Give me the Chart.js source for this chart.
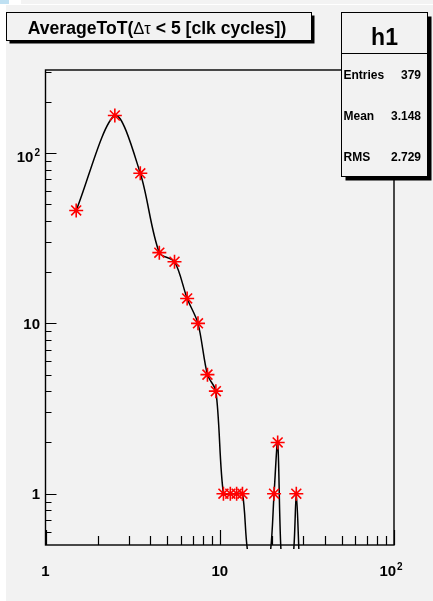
<!DOCTYPE html>
<html>
<head>
<meta charset="utf-8">
<script src="https://cdn.jsdelivr.net/npm/chart.js@4/dist/chart.umd.min.js"></script>
<style>
  html, body { margin: 0; padding: 0; background: #ffffff; }
  #wrap { position: relative; width: 433px; height: 601px; }
  canvas { display: block; }
</style>
</head>
<body>
<div id="wrap"><canvas id="c" width="433" height="601"></canvas></div>
<script>
// Histogram h1: average ToT, bins of width 1 (centres at x.5)
const binCenters = [1.5, 2.5, 3.5, 4.5, 5.5, 6.5, 7.5, 8.5, 9.5, 10.5, 11.5, 12.5, 13.5, 14.5,
                    15.5, 16.5, 17.5, 18.5, 19.5, 20.5, 21.5, 22.5, 23.5, 24.5, 25.5, 26.5, 27.5, 28.5];
const binCounts  = [46, 166, 76, 26, 23, 14, 10, 5, 4, 1, 1, 1, 1, 0,
                    0, 0, 0, 0, 0, 1, 2, 0, 0, 0, 0, 0, 1, 0];

// Title and statistics box contents
const titleParts = [
  { text: 'AverageToT(', bold: true },
  { text: '\u0394\u03c4', bold: false },
  { text: ' < 5 [clk cycles])', bold: true }
];
const statsName = 'h1';
const statsLabels = ['Entries', 'Mean', 'RMS'];
const statsValues = ['379', '3.148', '2.729'];

// Axis ranges and tick labels (base, exponent)
const xRange = [1, 100];
const yRange = [0.5, 307];
const xMajorTicks = [1, 10, 100];
const xTickLabels = [['1', ''], ['10', ''], ['10', '2']];
const yMajorTicks = [1, 10, 100];
const yTickLabels = [['1', ''], ['10', ''], ['10', '2']];
const xMinorTicks = [2, 3, 4, 5, 6, 7, 8, 9, 20, 30, 40, 50, 60, 70, 80, 90];
const yMinorTicks = [0.6, 0.7, 0.8, 0.9, 2, 3, 4, 5, 6, 7, 8, 9, 20, 30, 40, 50, 60, 70, 80, 90, 200, 300];

// Empty bins are drawn just under the lower edge of the log axis
const emptyBinLevel = 0.45;

const BG = '#f2f2f2';
const FONT = '"Liberation Sans", Arial, Helvetica, sans-serif';

const curvePoints = binCenters.map((x, i) => ({ x: x, y: binCounts[i] > 0 ? binCounts[i] : emptyBinLevel, n: binCounts[i] }));

function drawLabel(ctx, base, exp, x, y, align) {
  ctx.font = 'bold 15px ' + FONT;
  const wb = ctx.measureText(base).width;
  ctx.font = 'bold 10px ' + FONT;
  const we = exp ? ctx.measureText(exp).width + 1 : 0;
  const total = wb + we;
  let left = align === 'center' ? x - total / 2 : x - total;
  ctx.textAlign = 'left';
  ctx.textBaseline = 'alphabetic';
  ctx.font = 'bold 15px ' + FONT;
  ctx.fillText(base, left, y);
  if (exp) {
    ctx.font = 'bold 10px ' + FONT;
    ctx.fillText(exp, left + wb + 1, y - 6);
  }
}

const rootStyle = {
  id: 'rootStyle',
  beforeDraw(chart) {
    const ctx = chart.ctx;
    ctx.save();
    ctx.fillStyle = '#ffffff';
    ctx.fillRect(0, 0, chart.width, chart.height);
    ctx.fillStyle = '#f3f3f3';
    ctx.fillRect(21, 0, chart.width - 21, 4);
    ctx.fillStyle = '#bfe0f2';
    ctx.fillRect(0, 0, 9, 4);
    ctx.fillStyle = BG;
    ctx.fillRect(6, 5, chart.width - 6, chart.height - 5);
    ctx.restore();
  },
  beforeDatasetsDraw(chart) {
    const ctx = chart.ctx;
    const a = chart.chartArea;
    const xs = chart.scales.x, ys = chart.scales.y;
    ctx.save();
    ctx.strokeStyle = '#000';
    ctx.fillStyle = '#000';
    // frame
    ctx.lineWidth = 1.4;
    ctx.strokeRect(a.left, a.top, a.right - a.left, a.bottom - a.top);
    // x ticks (pointing into the frame)
    ctx.lineWidth = 1.2;
    ctx.beginPath();
    xMinorTicks.forEach(v => {
      const px = Math.round(xs.getPixelForValue(v)) + 0.5;
      ctx.moveTo(px, a.bottom); ctx.lineTo(px, a.bottom - 9);
    });
    xMajorTicks.forEach(v => {
      const px = Math.round(xs.getPixelForValue(v)) + 0.5;
      ctx.moveTo(px, a.bottom); ctx.lineTo(px, a.bottom - 15);
    });
    // y ticks
    yMinorTicks.forEach(v => {
      const py = Math.round(ys.getPixelForValue(v)) + 0.5;
      ctx.moveTo(a.left, py); ctx.lineTo(a.left + 6, py);
    });
    yMajorTicks.forEach(v => {
      const py = Math.round(ys.getPixelForValue(v)) + 0.5;
      ctx.moveTo(a.left, py); ctx.lineTo(a.left + 11, py);
    });
    ctx.stroke();
    // tick labels
    xMajorTicks.forEach((v, i) => {
      const [b, e] = xTickLabels[i];
      const px = xs.getPixelForValue(v) - (e ? 3 : 0);
      drawLabel(ctx, b, e, px, a.bottom + 30.5, 'center');
    });
    yMajorTicks.forEach((v, i) => {
      const [b, e] = yTickLabels[i];
      const py = ys.getPixelForValue(v);
      drawLabel(ctx, b, e, a.left - 5.5, py + (e ? 9 : 5.5), 'right');
    });
    ctx.restore();
  },
  afterDraw(chart) {
    const ctx = chart.ctx;
    ctx.save();
    // title box with shadow
    const tb = { x: 6.5, y: 12.5, w: 305, h: 28 };
    ctx.fillStyle = '#000';
    ctx.fillRect(tb.x + 3, tb.y + 3, tb.w, tb.h);
    ctx.fillStyle = BG;
    ctx.fillRect(tb.x, tb.y, tb.w, tb.h);
    ctx.strokeStyle = '#000';
    ctx.lineWidth = 1;
    ctx.strokeRect(tb.x, tb.y, tb.w, tb.h);
    let total = 0;
    titleParts.forEach(p => {
      ctx.font = (p.bold ? 'bold 17.6px ' : '16.5px ') + FONT;
      p.w = ctx.measureText(p.text).width;
      total += p.w;
    });
    let tx = 157 - total / 2;
    ctx.fillStyle = '#000';
    ctx.textBaseline = 'alphabetic';
    ctx.textAlign = 'left';
    titleParts.forEach(p => {
      ctx.font = (p.bold ? 'bold 17.6px ' : '16.5px ') + FONT;
      ctx.fillText(p.text, tx, 33.5);
      tx += p.w;
    });
    // statistics box with shadow
    const sb = { x: 341.5, y: 12.5, w: 86, h: 164 };
    ctx.fillStyle = '#000';
    ctx.fillRect(sb.x + 4, sb.y + 4, sb.w, sb.h);
    ctx.fillStyle = BG;
    ctx.fillRect(sb.x, sb.y, sb.w, sb.h);
    ctx.strokeRect(sb.x, sb.y, sb.w, sb.h);
    ctx.beginPath();
    ctx.moveTo(sb.x, 53.5); ctx.lineTo(sb.x + sb.w, 53.5);
    ctx.stroke();
    ctx.fillStyle = '#000';
    ctx.font = 'bold 23px ' + FONT;
    ctx.textAlign = 'center';
    ctx.fillText(statsName, sb.x + sb.w / 2, 45);
    const rowBase = [78.5, 120, 160.5];
    ctx.font = 'bold 12px ' + FONT;
    statsLabels.forEach((lab, i) => {
      ctx.textAlign = 'left';
      ctx.fillText(lab, 343.5, rowBase[i]);
      ctx.textAlign = 'right';
      ctx.fillText(statsValues[i], 421, rowBase[i]);
    });
    ctx.restore();
  }
};

new Chart(document.getElementById('c').getContext('2d'), {
  type: 'line',
  data: {
    datasets: [{
      data: curvePoints,
      borderColor: '#000000',
      borderWidth: 1.5,
      tension: 0.3,
      fill: false,
      pointStyle: 'star',
      pointRadius: c => (c.raw && c.raw.n > 0 ? 7 : 0),
      pointHoverRadius: 0,
      pointBorderColor: '#ff0000',
      pointBackgroundColor: '#ff0000',
      pointBorderWidth: 1.6,
      clip: { left: 0, top: 0, right: 0, bottom: 4 }
    }]
  },
  options: {
    responsive: false,
    animation: false,
    devicePixelRatio: 1,
    layout: { padding: { left: 45.5, right: 39, top: 70, bottom: 56 } },
    plugins: { legend: { display: false }, tooltip: { enabled: false }, title: { display: false } },
    events: [],
    scales: {
      x: { type: 'logarithmic', min: xRange[0], max: xRange[1], display: false },
      y: { type: 'logarithmic', min: yRange[0], max: yRange[1], display: false }
    }
  },
  plugins: [rootStyle]
});
</script>
</body>
</html>
